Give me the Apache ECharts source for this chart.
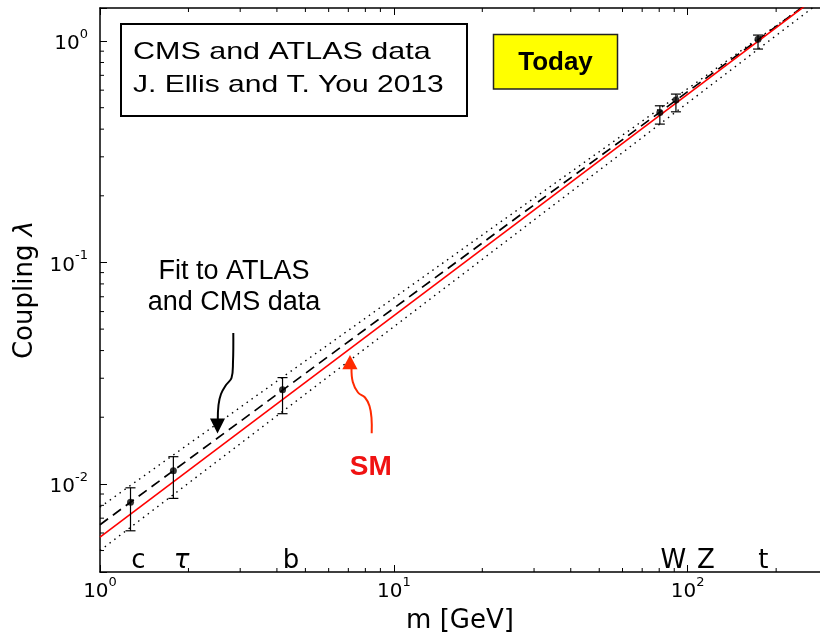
<!DOCTYPE html>
<html><head><meta charset="utf-8">
<script src="https://cdn.jsdelivr.net/npm/echarts@6/dist/echarts.min.js"></script>
<style>html,body{margin:0;padding:0;background:#fff}#c{width:820px;height:635px}</style>
</head><body><div id="c"></div>
<script>
// ---- data ----
const particles = ['c', 'τ', 'b', 'W', 'Z', 't'];
const masses = [1.27, 1.777, 4.18, 80.4, 91.19, 173.5];
const couplings = [0.00826, 0.01146, 0.0266, 0.476, 0.541, 1.018];
const errLow = [0.00614, 0.0086, 0.02075, 0.4216, 0.479, 0.920];
const errHigh = [0.0096, 0.01327, 0.0302, 0.510, 0.576, 1.064];
const lineMass = [1, 300];
const smLine = [0.00575, 1.7245];
const fitLine = [0.00654, 1.730];
const fitUpper = [0.00785, 1.72];
const fitLower = [0.0050, 1.596];
const xRange = [1, 282];
const yRange = [0.004, 1.41];

// ---- minor tick values (2..9 x 10^k) ----
const xMinor = [];
for (let d = 0; d < 3; d++) for (let k = 2; k < 10; k++) { const v = k * Math.pow(10, d); if (v < xRange[1] * 0.999) xMinor.push(v); }
const yMinor = [];
for (let d = -3; d < 0; d++) for (let k = 2; k < 10; k++) { const v = k * Math.pow(10, d); if (v > yRange[0] * 1.0001 && v < yRange[1]) yMinor.push(v); }

const chart = echarts.init(document.getElementById('c'), null, {renderer: 'canvas'});

function powLabel(v) {
  const e = Math.log10(v);
  if (Math.abs(e - Math.round(e)) < 1e-6) return '{b|10}{s|' + Math.round(e) + '}';
  return '';
}
const labelRich = {
  b: {fontFamily: 'DejaVu Sans', fontSize: 20, color: '#000', verticalAlign: 'bottom', lineHeight: 26},
  s: {fontFamily: 'DejaVu Sans', fontSize: 13, color: '#000', verticalAlign: 'top', lineHeight: 26}
};
const axisLineStyle = {show: true, lineStyle: {color: '#000', width: 1.5}};
const majorTick = {show: true, inside: true, length: 7, lineStyle: {color: '#000', width: 1}};

function lineSeries(vals, color, width, dash) {
  return {
    type: 'line', xAxisIndex: 0, yAxisIndex: 0, clip: true,
    data: lineMass.map((m, i) => [m, vals[i]]),
    showSymbol: false, symbol: 'none', silent: true, z: 3,
    lineStyle: {color: color, width: width, type: dash}
  };
}

const option = {
  animation: false,
  backgroundColor: '#fff',
  grid: {left: 100, top: 8, right: 0, bottom: 63, show: false, containLabel: false, outerBoundsMode: 'none'},
  xAxis: [
    {type: 'log', logBase: 10, min: xRange[0], max: xRange[1], position: 'bottom',
     axisLine: axisLineStyle, axisTick: majorTick, splitLine: {show: false},
     axisLabel: {formatter: powLabel, rich: labelRich, margin: 4},
     name: 'm [GeV]', nameLocation: 'middle', nameGap: 36,
     nameTextStyle: {fontFamily: 'DejaVu Sans', fontSize: 26, color: '#000'}},
    {type: 'log', logBase: 10, min: xRange[0], max: xRange[1], position: 'top',
     axisLine: axisLineStyle, axisTick: majorTick, splitLine: {show: false},
     axisLabel: {show: false}}
  ],
  yAxis: [
    {type: 'log', logBase: 10, min: yRange[0], max: yRange[1], position: 'left',
     axisLine: axisLineStyle, axisTick: majorTick, splitLine: {show: false},
     axisLabel: {formatter: powLabel, rich: labelRich, margin: 12},
     name: 'Coupling {i|λ}', nameLocation: 'middle', nameGap: 62,
     nameTextStyle: {fontFamily: 'DejaVu Sans', fontSize: 26, color: '#000',
       rich: {i: {fontFamily: 'DejaVu Sans', fontSize: 26, fontStyle: 'italic', color: '#000'}}}}
  ],
  series: [
    lineSeries(fitUpper, '#000', 1.4, [1.5, 4.5]),
    lineSeries(fitLower, '#000', 1.4, [1.5, 4.5]),
    lineSeries(fitLine, '#000', 1.7, [10, 6]),
    lineSeries(smLine, '#ff0000', 1.6, 'solid'),
    {
      type: 'custom', coordinateSystem: 'cartesian2d', silent: true, z: 4,
      data: masses.map((m, i) => [m, errLow[i], errHigh[i]]),
      encode: {x: 0, y: [1, 2]},
      renderItem: function (params, api) {
        const lo = api.coord([api.value(0), api.value(1)]);
        const hi = api.coord([api.value(0), api.value(2)]);
        const w = 5, st = {stroke: '#000', lineWidth: 1.2};
        return {type: 'group', children: [
          {type: 'line', shape: {x1: lo[0], y1: lo[1], x2: hi[0], y2: hi[1]}, style: st},
          {type: 'line', shape: {x1: hi[0] - w, y1: hi[1], x2: hi[0] + w, y2: hi[1]}, style: st},
          {type: 'line', shape: {x1: lo[0] - w, y1: lo[1], x2: lo[0] + w, y2: lo[1]}, style: st}
        ]};
      }
    },
    {
      type: 'scatter', silent: true, z: 5,
      data: masses.map((m, i) => [m, couplings[i]]),
      symbol: 'circle', symbolSize: 7, itemStyle: {color: '#000'}
    },
    {
      type: 'custom', coordinateSystem: 'cartesian2d', silent: true, z: 6,
      data: xMinor.map(v => [v, 0.01]),
      renderItem: function (params, api) {
        const p = api.coord([api.value(0), api.value(1)]);
        const cs = params.coordSys, st = {stroke: '#000', lineWidth: 1};
        return {type: 'group', children: [
          {type: 'line', shape: {x1: p[0], y1: cs.y + cs.height, x2: p[0], y2: cs.y + cs.height - 4}, style: st},
          {type: 'line', shape: {x1: p[0], y1: cs.y, x2: p[0], y2: cs.y + 4}, style: st}
        ]};
      }
    },
    {
      type: 'custom', coordinateSystem: 'cartesian2d', silent: true, z: 6,
      data: yMinor.map(v => [2, v]),
      renderItem: function (params, api) {
        const p = api.coord([api.value(0), api.value(1)]);
        const cs = params.coordSys, st = {stroke: '#000', lineWidth: 1};
        return {type: 'line', shape: {x1: cs.x, y1: p[1], x2: cs.x + 4, y2: p[1]}, style: st};
      }
    }
  ],
  graphic: []
};

chart.setOption(option);

// ---- annotations ----
const labelPos = [138.3, 181.7, 291, 673.3, 706, 763.3];
const g = [];
g.push({type: 'rect', z: 10, shape: {x: 121, y: 24, width: 346, height: 92},
  style: {fill: '#fff', stroke: '#000', lineWidth: 2}});
g.push({type: 'text', z: 11, x: 133, y: 52.4, scaleX: 1.27,
  style: {text: 'CMS and ATLAS data', font: '24px "Liberation Sans"', fill: '#000', textAlign: 'left', textVerticalAlign: 'middle'}});
g.push({type: 'text', z: 11, x: 133, y: 85.7, scaleX: 1.25,
  style: {text: 'J. Ellis and T. You 2013', font: '24px "Liberation Sans"', fill: '#000', textAlign: 'left', textVerticalAlign: 'middle'}});
g.push({type: 'rect', z: 10, shape: {x: 493.5, y: 34.5, width: 124, height: 54.5},
  style: {fill: '#ffff00', stroke: '#222', lineWidth: 1.5}});
g.push({type: 'text', z: 11, x: 555.5, y: 63,
  style: {text: 'Today', font: 'bold 26px "Liberation Sans"', fill: '#000', textAlign: 'center', textVerticalAlign: 'middle'}});
g.push({type: 'text', z: 11, x: 234, y: 272,
  style: {text: 'Fit to ATLAS', font: '27px "Liberation Sans"', fill: '#000', textAlign: 'center', textVerticalAlign: 'middle'}});
g.push({type: 'text', z: 11, x: 234, y: 302.6,
  style: {text: 'and CMS data', font: '27px "Liberation Sans"', fill: '#000', textAlign: 'center', textVerticalAlign: 'middle'}});
g.push({type: 'polyline', z: 11, shape: {points: [[233.3, 333], [233, 362], [231.5, 378], [226, 385], [221, 394], [218.5, 405], [217.8, 420]], smooth: 0.4},
  style: {stroke: '#000', lineWidth: 2, fill: null}});
g.push({type: 'polygon', z: 11, shape: {points: [[210, 418.5], [225, 418.5], [217.5, 433.5]]}, style: {fill: '#000'}});
g.push({type: 'polyline', z: 11, shape: {points: [[351.5, 368], [352.8, 382], [358, 392.5], [365, 397.5], [369.5, 406], [371.5, 418], [371.7, 433.3]], smooth: 0.4},
  style: {stroke: '#ff2a00', lineWidth: 2, fill: null}});
g.push({type: 'polygon', z: 11, shape: {points: [[342.3, 369.3], [357.5, 369.3], [350, 355]]}, style: {fill: '#ff2a00'}});
g.push({type: 'text', z: 11, x: 370.7, y: 467.5,
  style: {text: 'SM', font: 'bold 28px "Liberation Sans"', fill: '#f01212', textAlign: 'center', textVerticalAlign: 'middle'}});
particles.forEach((p, i) => {
  g.push({type: 'text', z: 11, x: labelPos[i], y: 561.5,
    style: {text: p, font: (p === 'τ' ? 'italic ' : '') + '26px "DejaVu Sans"', fill: '#000', textAlign: 'center', textVerticalAlign: 'middle'}});
});
chart.setOption({graphic: g});
</script>
</body></html>
